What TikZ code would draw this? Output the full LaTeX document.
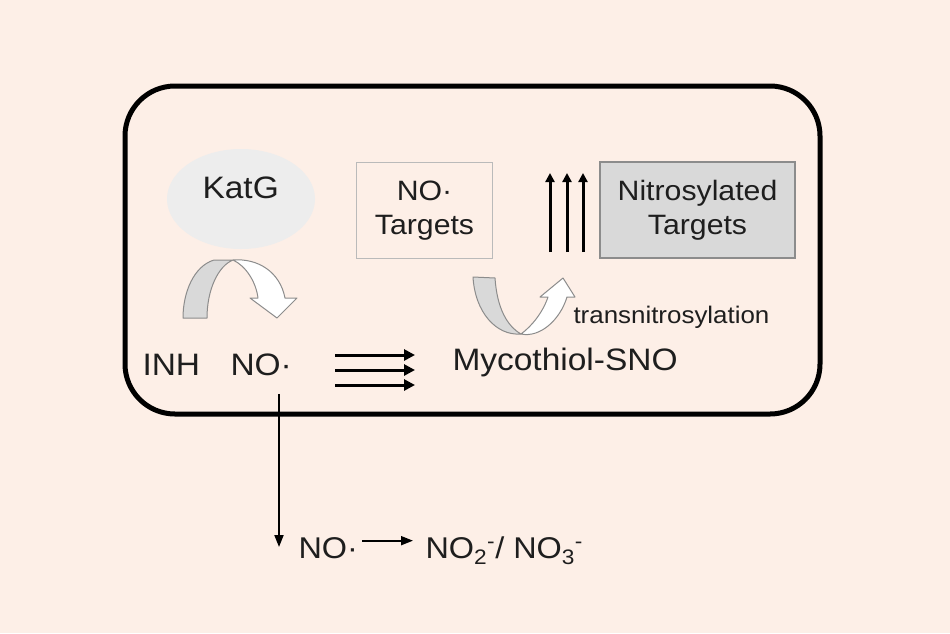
\documentclass[tikz,border=0pt]{standalone}
\usepackage{fontspec}
\setmainfont{Liberation Sans}[FakeStretch=1.08]
\usetikzlibrary{arrows.meta}

\definecolor{peach}{RGB}{253,239,231}
\definecolor{blobgray}{RGB}{237,237,237}
\definecolor{boxgray}{RGB}{217,217,217}
\definecolor{edgegray}{RGB}{140,140,140}
\definecolor{inkgray}{RGB}{30,30,30}

\tikzset{
  lbl/.style={inner sep=0pt, text=inkgray, font=\fontsize{31}{31}\selectfont},
  boxlbl/.style={lbl, font=\fontsize{28}{34}\selectfont, align=center},
  tgtbox/.style={boxlbl, draw=edgegray!60, line width=1.2pt, minimum width=136pt, minimum height=96pt},
  nitbox/.style={tgtbox, fill=boxgray, draw=edgegray, minimum width=195pt},
  thinarr/.style={line width=1.8pt, -{Triangle[length=12pt,width=9pt]}},
  fatarr/.style={line width=3pt, -{Triangle[length=11pt,width=11pt]}},
  bentarr/.style={draw=edgegray, line width=1pt, line join=round},
}

\begin{document}
\begin{tikzpicture}[x=1pt, y=-1pt, line width=1pt]
  \fill[peach] (0,0) rectangle (950,633);
  \useasboundingbox (0,0) rectangle (950,633);
  \draw[line width=5pt, rounded corners=50pt] (125,86) rectangle (820,414);

  \fill[blobgray] (241,199) ellipse [x radius=74pt, y radius=50pt];
  \node[lbl, anchor=base west] (katg) at (202,198) {KatG};
  \node[tgtbox] (notgt) at (424.5,210.5) {NO·\\Targets};
  \node[nitbox] (nittgt) at (697.5,210) {Nitrosylated\\Targets};

  \node[lbl, anchor=base west] (inh) at (142,375) {INH};
  \node[lbl, anchor=base west] (no) at (230,375) {NO·};
  \node[lbl, anchor=base west] (msno) at (452,370) {Mycothiol-SNO};
  \node[lbl, anchor=base west, font=\fontsize{24}{24}\selectfont] (trans) at (573,323) {transnitrosylation};
  \node[lbl, anchor=base west, font=\fontsize{30}{30}\selectfont] (nofree) at (298,558) {NO·};
  \node[lbl, anchor=base west, font=\fontsize{30}{30}\selectfont] (nox) at (425,558)
    {NO\textsubscript{2}\textsuperscript{-}/ NO\textsubscript{3}\textsuperscript{-}};

  \filldraw[bentarr, fill=boxgray] (183,318) -- (207,318) .. controls (207,290) and (218,266) .. (233,260)
    -- (214,260) .. controls (194,266) and (183,292) .. cycle;
  \filldraw[bentarr, fill=white] (233,260) .. controls (246,266) and (256,282) .. (258,298) -- (250,298)
    -- (277,318) -- (297,298) -- (285,298) .. controls (280,272) and (258,258) .. cycle;
  \filldraw[bentarr, fill=boxgray] (473,277) -- (495,278) .. controls (497,308) and (507,326) .. (521,334)
    .. controls (496,336) and (475,312) .. cycle;
  \filldraw[bentarr, fill=white] (521,334) .. controls (532,326) and (543,312) .. (548,297) -- (540,297)
    -- (563,278) -- (575,297) -- (567,297) .. controls (560,320) and (540,338) .. cycle;

  \foreach \y [count=\i] in {355,370,385} {
    \coordinate (flow\i a) at (335,\y);
    \coordinate (flow\i b) at (415,\y);
    \draw[fatarr] (flow\i a) -- (flow\i b);
  }
  \foreach \x [count=\i] in {550,567,583} {
    \coordinate (rise\i a) at (\x,252);
    \coordinate (rise\i b) at (\x,173);
    \draw[fatarr, -{Triangle[length=9pt,width=9pt]}] (rise\i a) -- (rise\i b);
  }

  \coordinate (drop) at (279,547);
  \draw[thinarr] ([yshift=-18pt]no.south -| drop) -- (drop);
  \draw[thinarr] ([xshift=4pt,yshift=7pt]nofree.east) -- ([xshift=-12pt,yshift=7pt]nofree.east -| nox.west);
\end{tikzpicture}
\end{document}
